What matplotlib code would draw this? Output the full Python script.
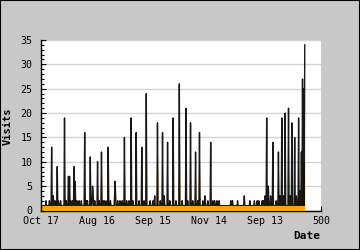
import numpy as np
import matplotlib
matplotlib.use("Agg")
import matplotlib.pyplot as plt
from matplotlib.patches import Rectangle

# days on the x axis (index 0 .. 471), most days had 1 visit / 1 unique
n_days = 472
base_visits = 1
base_unique = 1

# days where visits differ from the baseline
spike_days = [9, 15, 19, 22, 25, 29, 31, 35, 42, 45, 49, 51, 53, 56, 59, 61, 64, 68, 72,
              78, 81, 83, 88, 92, 93, 96, 101, 104, 108, 111, 114, 118, 120, 124, 132, 133,
              137, 141, 145, 149, 153, 157, 161, 164, 170, 175, 180, 184, 188, 195, 200,
              203, 208, 213, 217, 220, 226, 230, 236, 241, 247, 252, 259, 262, 267, 271,
              276, 280, 283, 289, 293, 298, 303, 307, 310, 314, 318, 339, 342, 351, 363,
              373, 381, 386, 389, 395, 397, 400, 403, 406, 410, 414, 420, 424, 427, 430,
              433, 436, 442, 445, 448, 453, 456, 460, 463, 465, 467, 469, 471]
spike_visits = [2, 2, 13, 3, 2, 9, 2, 2, 19, 2, 7, 7, 2, 2, 9, 6, 2, 2, 2,
                16, 2, 2, 11, 5, 4, 2, 10, 2, 12, 2, 2, 2, 13, 2, 6, 4,
                2, 2, 2, 15, 2, 2, 19, 2, 16, 2, 13, 2, 24, 2, 2,
                3, 18, 2, 16, 3, 14, 2, 19, 2, 26, 2, 21, 2, 18, 2,
                12, 2, 16, 2, 3, 2, 14, 2, 2, 2, 2, 2, 2, 2, 3,
                2, 2, 2, 2, 2, 2, 3, 19, 5, 3, 14, 2, 12, 3, 19,
                3, 20, 21, 3, 18, 15, 3, 19, 4, 12, 27, 25, 34]

# days where unique visitors differ from the baseline
unique_days = [28, 42, 49, 78, 88, 108, 120, 129, 149, 170, 180, 188, 208, 226, 247,
               257, 267, 274, 283, 341, 403, 424, 436, 450, 454, 457, 460, 462, 466,
               467, 468, 469, 470, 471]
unique_visits = [6, 4, 4, 9, 8, 8, 8, 3, 9, 4, 3, 16, 11, 3, 16,
                 5, 7, 4, 11, 2, 3, 6, 4, 2, 3, 3, 6, 5, 10,
                 10, 10, 10, 10, 10]

tick_pos = [0, 100, 200, 300, 400, 500]
tick_labels = ["Oct 17", "Aug 16", "Sep 15", "Nov 14", "Sep 13", "500"]

days = np.arange(n_days)
visits = np.full(n_days, base_visits, dtype=float)
visits[spike_days] = spike_visits
uniques = np.full(n_days, base_unique, dtype=float)
uniques[unique_days] = unique_visits

fig = plt.figure(figsize=(3.6, 2.5), dpi=100, facecolor="#c8c8c8")
ax = fig.add_axes([41 / 360, 1 - 210.5 / 250, 280 / 360, 170.5 / 250])
ax.set_facecolor("white")

orange = "#ffa500"
ax.fill_between(days, 0, uniques, color=orange, lw=0, zorder=2)
ax.plot(days, visits, color="black", lw=1.0, alpha=0.9, zorder=3)
# the baseline band sits on top of the visits line
ax.fill_between(days, 0, np.minimum(uniques, base_unique), color=orange, lw=0, zorder=4)

ax.set_xlim(0, 500)
ax.set_ylim(0, 35)
ax.set_xticks(tick_pos)
ax.set_xticklabels(tick_labels)
ax.set_yticks(range(0, 36, 5))
ax.set_yticks(range(0, 36, 1), minor=True)
ax.grid(axis="y", which="major", color="#d4d4d4", lw=1, zorder=1)
ax.set_axisbelow(True)

mono = "DejaVu Sans Mono"
ax.tick_params(axis="both", which="major", direction="in", length=3.6, width=0.8,
               labelsize=7.2, colors="black")
ax.tick_params(axis="y", which="minor", direction="in", length=2.2, width=0.8)
ax.tick_params(axis="x", pad=4)
ax.tick_params(axis="y", pad=6)
for lab in ax.get_xticklabels() + ax.get_yticklabels():
    lab.set_family(mono)

for s in ["top", "right"]:
    ax.spines[s].set_visible(False)
ax.spines["left"].set_linewidth(1)
ax.spines["left"].set_zorder(5)
ax.spines["bottom"].set_linewidth(1)
ax.spines["bottom"].set_zorder(1.5)

fig.text(8 / 360, 1 - 126 / 250, "Visits", rotation=90, ha="center", va="center",
         family=mono, weight="bold", fontsize=7.5)
fig.text(320 / 360, 1 - 236 / 250, "Date", ha="right", va="center",
         family=mono, weight="bold", fontsize=8)

fig.patches.append(Rectangle((0, 0), 1, 1, transform=fig.transFigure, fill=False,
                             edgecolor="black", lw=1.5))

fig.savefig("out.png", dpi=100, facecolor=fig.get_facecolor())
